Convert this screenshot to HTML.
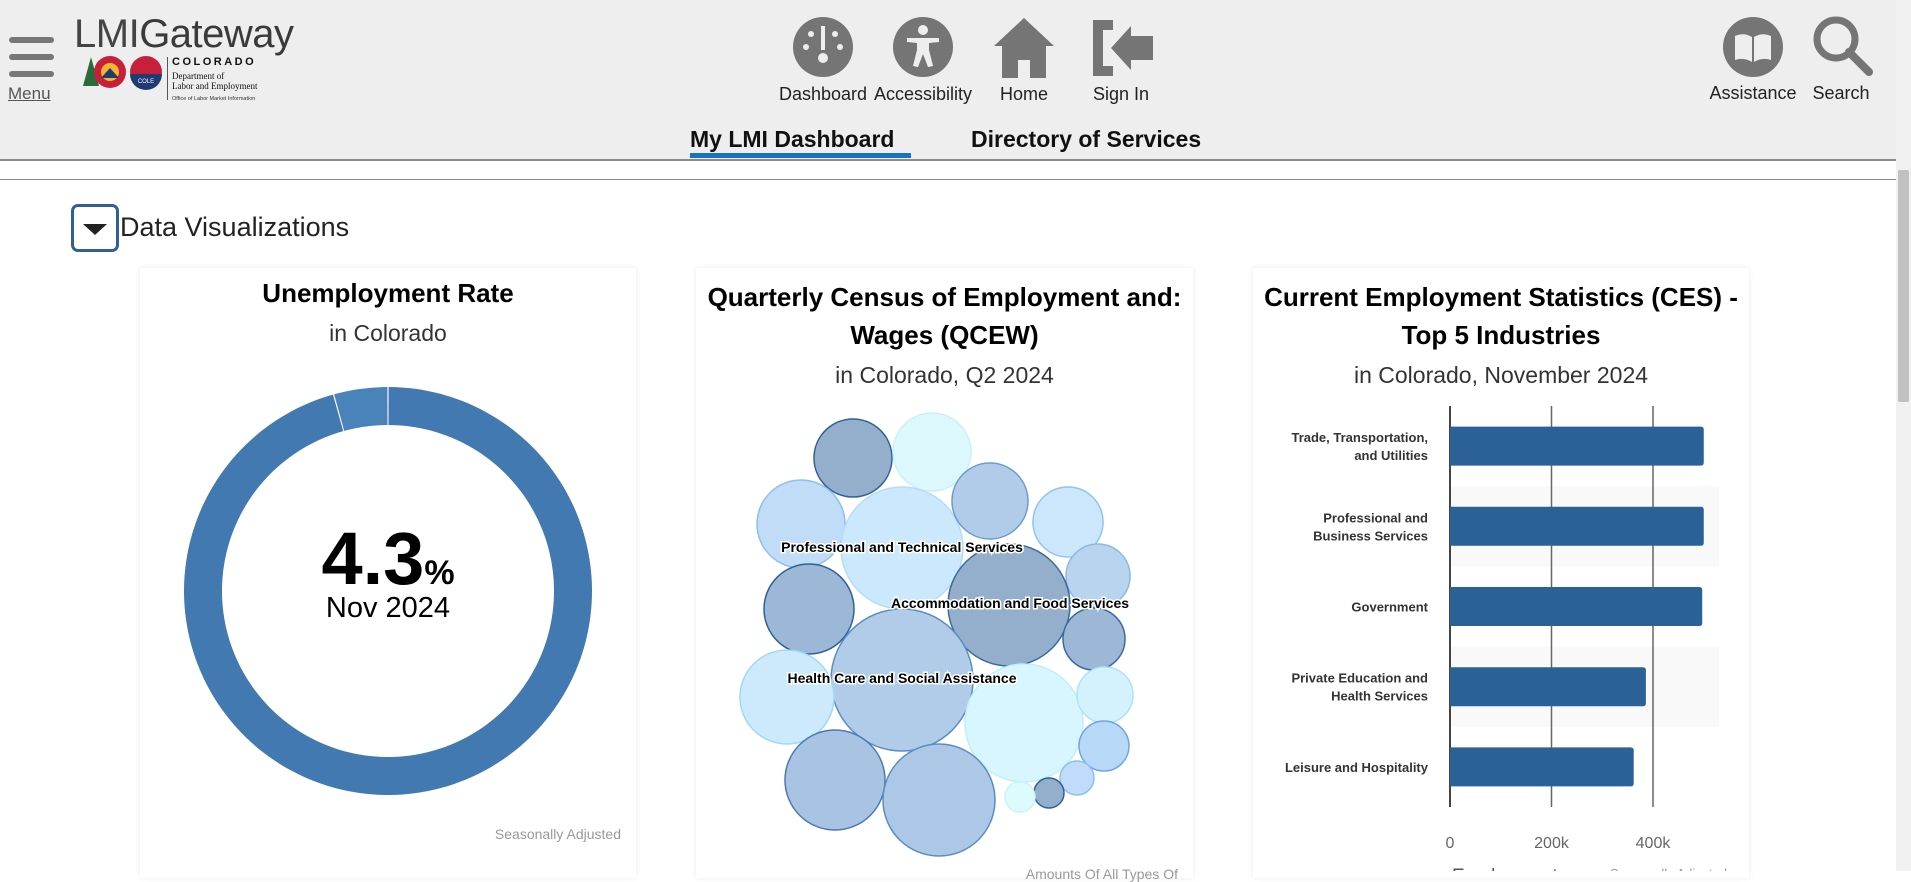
<!DOCTYPE html>
<html><head><meta charset="utf-8">
<style>
*{box-sizing:border-box;margin:0;padding:0}
body{width:1911px;height:871px;overflow:hidden;background:#fff;font-family:"Liberation Sans",sans-serif;position:relative}
.abs{position:absolute}
.hdr{left:0;top:0;width:1896px;height:161px;background:#eeeeee;border-bottom:2px solid #8a8a8a}
.lbl{font-size:18px;color:#222;text-align:center;width:120px}
.card{background:#fff;box-shadow:0 0 6px rgba(0,0,0,0.08)}
.ttl{font-weight:bold;font-size:26px;color:#000;text-align:center;width:100%}
.sub{font-size:23px;color:#333;text-align:center;width:100%}
</style></head><body>
<div class="abs hdr"></div>
<div class="abs" style="left:1896px;top:0;width:15px;height:871px;background:#f1f1f1"><div class="abs" style="left:2px;top:170px;width:11px;height:232px;background:#c1c1c1;border-radius:2px"></div></div>
<div class="abs" style="left:8px;top:34px;width:48px;height:70px">
 <div class="abs" style="left:1px;top:3px;width:45px;height:6px;background:#777;border-radius:3px"></div>
 <div class="abs" style="left:1px;top:20px;width:45px;height:6px;background:#777;border-radius:3px"></div>
 <div class="abs" style="left:1px;top:37px;width:45px;height:6px;background:#777;border-radius:3px"></div>
 <div class="abs" style="left:0;top:50px;font-size:17px;color:#555;text-decoration:underline">Menu</div>
</div>
<div class="abs" style="left:74px;top:12px;font-size:40px;color:#444;letter-spacing:-0.5px"><span style="font-weight:300">LMI</span><span style="font-weight:normal;color:#3a3a3a">Gateway</span></div>
<svg class="abs" style="left:80px;top:54px" width="210" height="50">
 <polygon points="11,3 3,32 19,32" fill="#2b6a3a"/>
 <circle cx="30" cy="18" r="16" fill="#c8203a"/><circle cx="30" cy="18" r="9" fill="#f2b72c"/><path d="M21,24 L30,14 L39,24 Z" fill="#1f3b73"/>
 <circle cx="66" cy="18" r="16" fill="#c8203a"/><path d="M50,20 A16,16 0 0 0 82,20 Z" fill="#1f3b73"/><text x="66" y="29" font-size="6" fill="#fff" text-anchor="middle">COLE</text>
 <rect x="87" y="3" width="1" height="43" fill="#555"/>
 <text x="92" y="11" font-size="11" font-weight="bold" letter-spacing="2.5" fill="#111">COLORADO</text>
 <text x="92" y="25" font-size="9" font-family="Liberation Serif" fill="#111">Department of</text>
 <text x="92" y="35" font-size="9" font-family="Liberation Serif" fill="#111">Labor and Employment</text>
 <text x="92" y="46" font-size="5.5" fill="#333">Office of Labor Market Information</text>
</svg>
<div class="abs" style="left:763px;top:14px;width:120px;height:95px">
 <svg class="abs" style="left:30px;top:2px" width="60" height="62"><circle cx="30" cy="31" r="30" fill="#757575"/><rect x="28" y="10" width="4" height="24" fill="#eee"/><circle cx="30" cy="42" r="5" fill="#eee"/><circle cx="13" cy="31" r="3" fill="#eee"/><circle cx="47" cy="31" r="3" fill="#eee"/><circle cx="18" cy="18" r="3" fill="#eee"/><circle cx="42" cy="18" r="3" fill="#eee"/></svg>
 <div class="abs lbl" style="left:0;top:70px">Dashboard</div></div>
<div class="abs" style="left:863px;top:14px;width:120px;height:95px">
 <svg class="abs" style="left:30px;top:2px" width="60" height="62"><circle cx="30" cy="31" r="30" fill="#757575"/><circle cx="30" cy="14" r="5" fill="#eee"/><path d="M14,22 L46,22 L46,26 L36,27 L36,34 L40,50 L35,51 L30,38 L25,51 L20,50 L24,34 L24,27 L14,26Z" fill="#eee"/></svg>
 <div class="abs lbl" style="left:0;top:70px">Accessibility</div></div>
<div class="abs" style="left:964px;top:14px;width:120px;height:95px">
 <svg class="abs" style="left:30px;top:2px" width="60" height="62"><path d="M30,2 L60,30 L52,30 L52,62 L36,62 L36,44 L24,44 L24,62 L8,62 L8,30 L0,30Z" fill="#757575"/></svg>
 <div class="abs lbl" style="left:0;top:70px">Home</div></div>
<div class="abs" style="left:1061px;top:14px;width:120px;height:95px">
 <svg class="abs" style="left:30px;top:2px" width="62" height="62"><path d="M2,4 L22,4 L22,14 L12,14 L12,50 L22,50 L22,60 L2,60Z" fill="#757575"/><path d="M20,32 L40,10 L40,20 L62,20 L62,44 L40,44 L40,54Z" fill="#757575"/></svg>
 <div class="abs lbl" style="left:0;top:70px">Sign In</div></div>
<div class="abs" style="left:1693px;top:14px;width:120px;height:95px">
 <svg class="abs" style="left:30px;top:2px" width="60" height="62"><circle cx="30" cy="31" r="30" fill="#757575"/><path d="M12,20 Q21,16 29,21 L29,46 Q21,41 12,44Z M31,21 Q39,16 48,20 L48,44 Q39,41 31,46Z" fill="#eee"/></svg>
 <div class="abs lbl" style="left:0;top:69px">Assistance</div></div>
<div class="abs" style="left:1781px;top:14px;width:120px;height:95px">
 <svg class="abs" style="left:30px;top:0" width="64" height="64"><circle cx="25" cy="25" r="19" fill="none" stroke="#757575" stroke-width="7"/><line x1="38" y1="38" x2="58" y2="58" stroke="#757575" stroke-width="8" stroke-linecap="round"/></svg>
 <div class="abs lbl" style="left:0;top:69px">Search</div></div>
<div class="abs" style="left:690px;top:126px;font-size:23px;font-weight:bold;color:#111">My LMI Dashboard</div>
<div class="abs" style="left:690px;top:153px;width:221px;height:5px;background:#1a73c0"></div>
<div class="abs" style="left:971px;top:126px;font-size:23px;font-weight:bold;color:#111">Directory of Services</div>
<div class="abs" style="left:0;top:179px;width:1896px;height:1px;background:#888"></div>
<div class="abs" style="left:71px;top:204px;width:48px;height:48px;border:3px solid #2f5f95;border-radius:7px"><div class="abs" style="left:9px;top:17px;width:0;height:0;border-left:12px solid transparent;border-right:12px solid transparent;border-top:11px solid #222"></div></div>
<div class="abs" style="left:120px;top:212px;font-size:27px;color:#222">Data Visualizations</div>

<div class="abs card" style="left:140px;top:268px;width:496px;height:610px">
 <div class="abs ttl" style="top:10px">Unemployment Rate</div>
 <div class="abs sub" style="top:52px">in Colorado</div>
 <svg class="abs" style="left:0;top:0" width="496" height="610" id="donut"></svg>
 <div class="abs" style="left:0;width:100%;text-align:center;top:248px;font-size:74px;font-weight:bold;color:#000"><span id="rateText">4.3</span><span style="font-size:34px">%</span></div>
 <div class="abs" style="left:0;width:100%;text-align:center;top:324px;font-size:29px;color:#000">Nov 2024</div>
 <div class="abs" style="right:15px;top:558px;font-size:14px;color:#999">Seasonally Adjusted</div>
</div>
<div class="abs card" style="left:696px;top:268px;width:497px;height:610px">
 <div class="abs ttl" style="top:10px;line-height:38px;left:0;white-space:nowrap">Quarterly Census of Employment and:<br>Wages (QCEW)</div>
 <div class="abs sub" style="top:94px">in Colorado, Q2 2024</div>
 <div class="abs" style="right:15px;top:598px;font-size:14px;color:#999">Amounts Of All Types Of</div>
</div>
<svg class="abs" style="left:0;top:0" width="1911" height="871" id="bubbles"></svg>
<div class="abs card" style="left:1253px;top:268px;width:496px;height:610px">
 <div class="abs ttl" style="top:10px;line-height:38px">Current Employment Statistics (CES) -<br>Top 5 Industries</div>
 <div class="abs sub" style="top:94px">in Colorado, November 2024</div>
</div>
<svg class="abs" style="left:0;top:0" width="1911" height="871" id="bars"></svg>

<script>
const NS='http://www.w3.org/2000/svg';
function mk(p,t,a){const e=document.createElementNS(NS,t);for(const k in a)e.setAttribute(k,a[k]);p.appendChild(e);return e;}
const rate=[4.3];
const d=document.getElementById('donut');
(function(){const cx=248,cy=323,ro=204,ri=166;
 function arc(a0,a1){const p=(a,r)=>[cx+r*Math.sin(a),cy-r*Math.cos(a)];const l=(a1-a0)>Math.PI?1:0;const A=p(a0,ro),B=p(a1,ro),C=p(a1,ri),D=p(a0,ri);
  return `M${A} A${ro},${ro} 0 ${l} 1 ${B} L${C} A${ri},${ri} 0 ${l} 0 ${D}Z`;}
 const f=rate[0]/100*2*Math.PI;
 const r1=mk(d,'path',{d:arc(0.003,2*Math.PI-f-0.003),fill:'#4179b0'});
 
 
 const r2=mk(d,'path',{d:arc(2*Math.PI-f+0.003,2*Math.PI-0.003),fill:'#4a82ba'});
 
 
 document.getElementById('rateText').textContent=rate[0].toFixed(1);
})();
const bubbleX=[853,932,801,902,990,1068,1098,1009,809,1094,902,787,1024,1105,1104,835,939,1077,1049,1020];
const bubbleY=[458,452,524,548,501,522,576,605,609,639,680,697,723,695,746,780,800,778,793,797];
const bubbleR=[39,39,44,61,38,35,32,61,45,31,71,47,59,28,25,50,56,17,15,15];
const bubbleFill=['#93afcc','#dcf8fd','#c0dcf7','#cce8fc','#b0cce8','#cce6fc','#b8d4ee','#93afcc','#9cb8d6','#9cb8d6','#b0cce8','#cdeafc','#d8f6fd','#d4f2fd','#b8d8f8','#a8c4e2','#acc8e6','#c0dcfa','#93afcc','#ddfafd'];
const bubbleStroke=['#2f5f9a','#c8f0fa','#8cc0ee','#b4dcf8','#6c9acb','#8ec4f0','#8cb8e4','#3a6a9f','#2f5f9a','#3a6a9f','#5b8cc4','#a0d8f6','#c0eefa','#b0e2f8','#6ea5dd','#4a7ab5','#5b8cc4','#8cc0f0','#2f5f9a','#c8f4fa'];
const bubbleLabels=[['Professional and Technical Services',902,547],['Accommodation and Food Services',1010,603],['Health Care and Social Assistance',902,678]];
const bs=document.getElementById('bubbles');
bubbleX.forEach((x,i)=>{const c=mk(bs,'circle',{cx:x,cy:bubbleY[i],r:bubbleR[i],fill:bubbleFill[i],stroke:bubbleStroke[i],'stroke-width':1.5});
 
 });
bubbleLabels.forEach(l=>{const t=mk(bs,'text',{x:l[1],y:l[2]+5,'text-anchor':'middle','font-size':14,'font-weight':'bold',fill:'#000',stroke:'#fff','stroke-width':3,'paint-order':'stroke','font-family':'Liberation Sans'});t.textContent=l[0];
 
 });
const industries=[['Trade, Transportation,','and Utilities'],['Professional and','Business Services'],['Government'],['Private Education and','Health Services'],['Leisure and Hospitality']];
const employment=[500,500,497,386,362];
const ticks=[0,200,400];
const tickLabels=['0','200k','400k'];
const bsv=document.getElementById('bars');
const x0=1450,pxPerK=0.5075,top0=406,bot0=807,band=(bot0-top0)/industries.length;
const X=v=>x0+v*pxPerK;
industries.forEach((n,i)=>{if(i%2==1){mk(bsv,'rect',{x:x0,y:top0+band*i,width:269,height:band,fill:'#f9f9f9'});}});
ticks.forEach((t,i)=>{const l=mk(bsv,'line',{x1:X(t),x2:X(t),y1:top0,y2:bot0,stroke:i==0?'#444':'#666','stroke-width':i==0?2:1.5});
 
 
 const tx=mk(bsv,'text',{x:X(t),y:848,'text-anchor':'middle','font-size':16,fill:'#666','font-family':'Liberation Sans'});tx.textContent=tickLabels[i];
 
 });
industries.forEach((n,i)=>{const cy=top0+band*(i+0.5);
 const r=mk(bsv,'path',{d:`M${x0},${cy-19.5} H${X(employment[i])-3} Q${X(employment[i])},${cy-19.5} ${X(employment[i])},${cy-16.5} V${cy+16.5} Q${X(employment[i])},${cy+19.5} ${X(employment[i])-3},${cy+19.5} H${x0}Z`,fill:'#2a6196'});
 
 
 n.forEach((s,j)=>{const t=mk(bsv,'text',{x:1428,y:cy+5+(j-(n.length-1)/2)*18,'text-anchor':'end','font-size':13,'font-weight':'bold',fill:'#333','font-family':'Liberation Sans'});t.textContent=s;
  
  });});
const at=mk(bsv,'text',{x:1452,y:882,'font-size':19,fill:'#555','font-family':'Liberation Sans'});at.textContent='Employment';


const sn=mk(bsv,'text',{x:1610,y:878,'font-size':13,fill:'#999','font-family':'Liberation Sans'});sn.textContent='Seasonally Adjusted';


</script>
</body></html>
